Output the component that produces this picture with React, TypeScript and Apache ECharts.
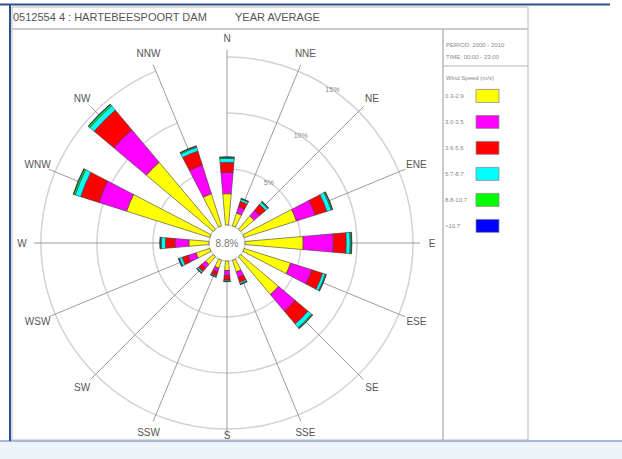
import React, { useEffect, useRef } from "react";
import * as echarts from "echarts";

const directions = ["N", "NNE", "NE", "ENE", "E", "ESE", "SE", "SSE", "S", "SSW", "SW", "WSW", "W", "WNW", "NW", "NNW"];
const speedClasses = ["0.3-2.9", "3.0-3.5", "3.6-5.6", "5.7-8.7", "8.8-10.7", ">10.7"];
const speedColors = ["#ffff00", "#ff00ff", "#ff0000", "#00ffff", "#00ff00", "#0000ff"];
// frequency (%) per direction, one array per wind-speed class
const speed1 = [2.8, 1.2, 1.55, 4.9, 5.2, 4.35, 4.4, 1.1, 0.85, 0.75, 0.9, 1.3, 1.8, 7.8, 7.8, 3.0];
const speed2 = [1.9, 0.6, 0.65, 1.75, 2.7, 2.0, 1.95, 0.55, 0.45, 0.35, 0.45, 0.75, 1.25, 2.6, 3.8, 2.7];
const speed3 = [0.9, 0.5, 0.7, 1.1, 1.15, 1.0, 1.5, 0.45, 0.4, 0.35, 0.4, 0.55, 0.85, 1.7, 2.3, 1.3];
const speed4 = [0.35, 0.2, 0.25, 0.4, 0.35, 0.25, 0.4, 0.13, 0.1, 0.1, 0.13, 0.25, 0.35, 0.5, 0.5, 0.35];
const speed5 = [0.1, 0.05, 0.07, 0.1, 0.1, 0.07, 0.1, 0.05, 0.03, 0.03, 0.05, 0.07, 0.1, 0.15, 0.15, 0.1];
const speed6 = [0.05, 0.03, 0.03, 0.05, 0.05, 0.03, 0.05, 0.02, 0.02, 0.02, 0.02, 0.03, 0.05, 0.05, 0.05, 0.05];
const speedSeries = [speed1, speed2, speed3, speed4, speed5, speed6];
const calmPercent = "8.8%";
const ringTicks = [5, 10, 15];
const titleStation = "0512554 4 : HARTEBEESPOORT DAM";
const titlePeriod = "YEAR AVERAGE";
const periodText = "PERIOD: 2000 - 2010";
const timeText = "TIME: 00:00 - 23:00";
const legendTitle = "Wind Speed (m/s)";

const FONT = "Liberation Sans, Arial, sans-serif";

export default function App() {
  const ref = useRef<HTMLDivElement>(null);
  useEffect(() => {
    if (!ref.current) return;
    const chart = echarts.init(ref.current, null, { renderer: "svg" });
    const cx = 227;
    const cy = 243;
    const r0 = 18;
    const r1 = 186;
    const spokeR = 193;
    const labelR = 205;
    const labelMaxY = 435;
    const maxPct = 15;
    const ringAngle = (34.5 * Math.PI) / 180;
    const pxPerPct = (r1 - r0) / maxPct;

    const ringLabels = ringTicks.map((t) => {
      const r = r0 + t * pxPerPct;
      return {
        type: "text",
        x: cx + r * Math.sin(ringAngle),
        y: cy - r * Math.cos(ringAngle),
        z: 5,
        style: { text: t + "%", fontSize: 7, fontFamily: FONT, fill: "#888", align: "center", verticalAlign: "middle" },
      };
    });

    const dirLabels = directions.map((d, i) => {
      const a = (i * 2 * Math.PI) / directions.length;
      return {
        type: "text",
        x: cx + labelR * Math.sin(a),
        y: Math.min(cy - labelR * Math.cos(a), labelMaxY),
        z: 5,
        style: { text: d, fontSize: 10, fontFamily: FONT, fill: "#555", align: "center", verticalAlign: "middle" },
      };
    });

    const option: any = {
      animation: false,
      backgroundColor: "#ffffff",
      textStyle: { fontFamily: FONT },
      polar: [
        { center: [cx, cy], radius: [r0, r1] },
        { center: [cx, cy], radius: [r0, spokeR] },
      ],
      angleAxis: [
        {
          polarIndex: 0,
          type: "category",
          data: directions,
          boundaryGap: false,
          startAngle: 90,
          clockwise: true,
          axisLine: { show: false },
          axisTick: { show: false },
          axisLabel: { show: false },
          splitLine: { show: false },
        },
        {
          polarIndex: 1,
          type: "category",
          data: directions,
          boundaryGap: false,
          startAngle: 90,
          clockwise: true,
          axisLine: { show: false },
          axisTick: { show: false },
          axisLabel: { show: false },
          splitLine: { show: true, lineStyle: { color: "#9c9c9c", width: 1 } },
        },
      ],
      radiusAxis: [
        {
          polarIndex: 0,
          type: "value",
          min: 0,
          max: maxPct,
          interval: 5,
          axisLine: { show: false },
          axisTick: { show: false },
          axisLabel: { show: false },
          splitLine: { show: true, lineStyle: { color: "#d2d2d2", width: 1.5 } },
        },
        {
          polarIndex: 1,
          type: "value",
          min: 0,
          max: 1,
          show: false,
          axisLine: { show: false },
          axisTick: { show: false },
          axisLabel: { show: false },
          splitLine: { show: false },
        },
      ],
      legend: {
        orient: "vertical",
        left: 445,
        top: 89,
        padding: 0,
        align: "right",
        icon: "rect",
        itemWidth: 23,
        itemHeight: 13,
        itemGap: 12.2,
        data: speedClasses,
        formatter: "{a|{name}}",
        itemStyle: { borderColor: "#8a8a8a", borderWidth: 0.8 },
        textStyle: {
          fontSize: 6,
          color: "#888",
          fontFamily: FONT,
          rich: { a: { width: 26, height: 13, lineHeight: 13, align: "left", fontSize: 6, color: "#888", fontFamily: FONT } },
        },
        selectedMode: false,
      },
      series: speedSeries.map((vals, i) => ({
        type: "bar",
        name: speedClasses[i],
        coordinateSystem: "polar",
        polarIndex: 0,
        stack: "rose",
        barWidth: "44%",
        data: vals,
        itemStyle: { color: speedColors[i], borderColor: "#3a3a3a", borderWidth: 0.6 },
        emphasis: { disabled: true },
        z: 3,
      })),
      graphic: [
        { type: "rect", shape: { x: 0, y: 441, width: 622, height: 18 }, style: { fill: "#eef3fa" }, z: -1 },
        { type: "line", shape: { x1: 0, y1: 441, x2: 622, y2: 441 }, style: { stroke: "#9fb9dc", lineWidth: 2 }, z: 1 },
        { type: "line", shape: { x1: 0, y1: 4.5, x2: 610, y2: 4.5 }, style: { stroke: "#2b4f93", lineWidth: 2 }, z: 1 },
        { type: "line", shape: { x1: 10, y1: 4, x2: 10, y2: 441 }, style: { stroke: "#2b4f93", lineWidth: 2 }, z: 1 },
        { type: "rect", shape: { x: 12, y: 7, width: 516, height: 22 }, style: { fill: "none", stroke: "#b8b8b8", lineWidth: 1 }, z: 1 },
        { type: "rect", shape: { x: 12, y: 29, width: 516, height: 411 }, style: { fill: "none", stroke: "#b8b8b8", lineWidth: 1 }, z: 1 },
        { type: "line", shape: { x1: 443, y1: 29, x2: 443, y2: 440 }, style: { stroke: "#b8b8b8", lineWidth: 1.5 }, z: 1 },
        { type: "line", shape: { x1: 443, y1: 66, x2: 528, y2: 66 }, style: { stroke: "#b8b8b8", lineWidth: 1 }, z: 1 },
        { type: "text", x: 13, y: 17, z: 2, style: { text: titleStation, fontSize: 11, fontFamily: FONT, fill: "#555", verticalAlign: "middle" } },
        { type: "text", x: 235, y: 17, z: 2, style: { text: titlePeriod, fontSize: 11, fontFamily: FONT, fill: "#555", verticalAlign: "middle" } },
        { type: "text", x: 446, y: 45, z: 2, style: { text: periodText, fontSize: 6, fontFamily: FONT, fill: "#888", verticalAlign: "middle" } },
        { type: "text", x: 446, y: 57, z: 2, style: { text: timeText, fontSize: 6, fontFamily: FONT, fill: "#888", verticalAlign: "middle" } },
        { type: "text", x: 446, y: 78, z: 2, style: { text: legendTitle, fontSize: 6, fontFamily: FONT, fill: "#888", verticalAlign: "middle" } },
        { type: "text", x: cx, y: cy, z: 10, style: { text: calmPercent, fontSize: 10, fontFamily: FONT, fill: "#777", align: "center", verticalAlign: "middle" } },
        ...ringLabels,
        ...dirLabels,
      ],
    };
    chart.setOption(option);
    return () => chart.dispose();
  }, []);
  return <div ref={ref} style={{ position: "fixed", left: 0, top: 0, width: 622, height: 459 }} />;
}
